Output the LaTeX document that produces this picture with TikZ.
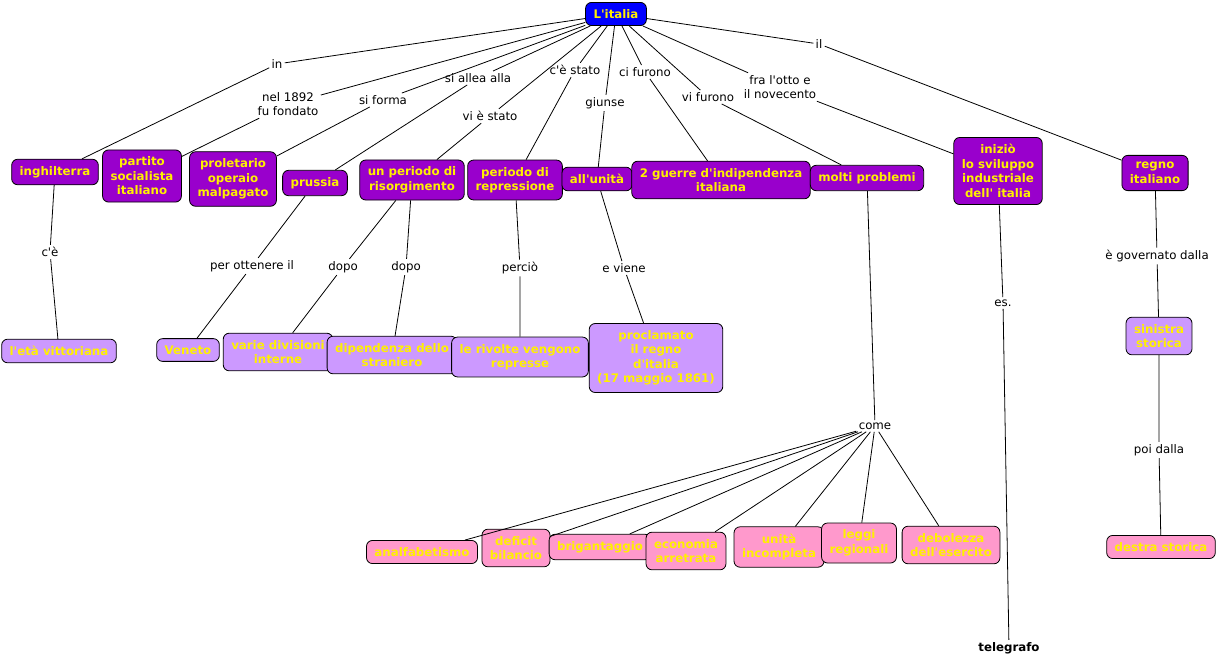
\documentclass[tikz,border=0pt]{standalone}
\usepackage{fontspec}
\setmainfont{DejaVu Sans}[Ligatures=TeXOff]
\usetikzlibrary{calc}
\definecolor{topblue}{HTML}{0000FF}
\definecolor{darkconc}{HTML}{9900CC}
\definecolor{lightconc}{HTML}{CC99FF}
\definecolor{pinkconc}{HTML}{FF99CC}
\definecolor{txtyellow}{HTML}{FFF000}
\newcommand{\mapfont}{\fontsize{11.8}{14.5}\selectfont}
\newcommand{\concept}[2]{
	\node[draw, rectangle, rounded corners = 6pt, fill = #1, text = txtyellow, font = \mapfont\bfseries, align = center, inner xsep = 8pt, inner ysep = 7pt] (#2)
}
\newcommand{\phrase}[1]{
	\node[align = center, inner sep = 2pt] (#1)
}
\begin{document}
\begin{tikzpicture}[x = 1pt, y = -1pt, line width = 0.8pt, font = \mapfont]

		\useasboundingbox[fill = white] (0,0) rectangle (1217,664);

		\concept{topblue}{italia} at (616,14) {L'italia};

		\concept{darkconc}{ingh} at (55,172) {inghilterra};
		\concept{darkconc}{partito} at (142,176) {partito\\socialista\\italiano};
		\concept{darkconc}{prolet} at (233,179) {proletario\\operaio\\malpagato};
		\concept{darkconc}{prussia} at (315,183) {prussia};
		\concept{darkconc}{risorg} at (412,180) {un periodo di\\risorgimento};
		\concept{darkconc}{repress} at (515,180) {periodo di\\repressione};
		\concept{darkconc}{unita} at (597,179) {all'unità};
		\concept{darkconc}{guerre} at (721,180) {2 guerre d'indipendenza\\italiana};
		\concept{darkconc}{problemi} at (867,178) {molti problemi};
		\concept{darkconc}{sviluppo} at (998,171) {iniziò\\lo sviluppo\\industriale\\dell' italia};
		\concept{darkconc}{regno} at (1155,173) {regno\\italiano};

		\concept{lightconc}{vittoria} at (59,351) {l'età vittoriana};
		\concept{lightconc}{veneto} at (188,350) {Veneto};
		\concept{lightconc}{divisioni} at (278,352) {varie divisioni\\interne};
		\concept{lightconc}{dipend} at (392,355) {dipendenza dello\\straniero};
		\concept{lightconc}{rivolte} at (520,357) {le rivolte vengono\\represse};
		\concept{lightconc}{proclam} at (656,358) {proclamato\\il regno\\d'italia\\(17 maggio 1861)};
		\concept{lightconc}{sinistra} at (1159,336) {sinistra\\storica};

		\concept{pinkconc}{prob_1} at (422,552) {analfabetismo};
		\concept{pinkconc}{prob_2} at (516,548) {deficit\\bilancio};
		\concept{pinkconc}{prob_3} at (600,547) {brigantaggio};
		\concept{pinkconc}{prob_4} at (686,551) {economia\\arretrata};
		\concept{pinkconc}{prob_5} at (779,547) {unità\\incompleta};
		\concept{pinkconc}{prob_6} at (859,543) {leggi\\regionali};
		\concept{pinkconc}{prob_7} at (951,545) {debolezza\\dell'esercito};
		\concept{pinkconc}{destra} at (1161,547) {destra storica};

		\node[font = \mapfont\bfseries, inner sep = 2pt] (tele) at (1009,648) {telegrafo};

		\phrase{l_in} at (277,64) {in};
		\phrase{l_fondato} at (288,104) {nel 1892\\fu fondato};
		\phrase{l_forma} at (383,100) {si forma};
		\phrase{l_allea} at (478,78) {si allea alla};
		\phrase{l_vistato} at (490,116) {vi è stato};
		\phrase{l_cestato} at (575,70) {c'è stato};
		\phrase{l_giunse} at (605,103) {giunse};
		\phrase{l_cifurono} at (645,72) {ci furono};
		\phrase{l_vifurono} at (708,97) {vi furono};
		\phrase{l_otto} at (780,87) {fra l'otto e\\il novecento};
		\phrase{l_il} at (819,44) {il};
		\phrase{l_ce} at (50,252) {c'è};
		\phrase{l_ottenere} at (252,266) {per ottenere il};
		\phrase{l_dopo_1} at (343,267) {dopo};
		\phrase{l_dopo_2} at (406,267) {dopo};
		\phrase{l_percio} at (520,268) {perciò};
		\phrase{l_viene} at (624,268) {e viene};
		\phrase{l_come} at (875,426) {come};
		\phrase{l_es} at (1003,303) {es.};
		\phrase{l_governato} at (1157,256) {è governato dalla};
		\phrase{l_poi} at (1159,450) {poi dalla};

		\draw (italia) -- (l_in) -- (ingh);
		\draw (ingh) -- (l_ce) -- (vittoria);
		\draw (italia) -- (l_fondato) -- (partito);
		\draw (italia) -- (l_forma) -- (prolet);
		\draw (italia) -- (l_allea) -- (prussia);
		\draw (prussia) -- (l_ottenere) -- (veneto);
		\draw (italia) -- (l_vistato) -- (risorg);
		\draw (risorg) -- (l_dopo_1) -- (divisioni);
		\draw (risorg) -- (l_dopo_2) -- (dipend);
		\draw (italia) -- (l_cestato) -- (repress);
		\draw (repress) -- (l_percio) -- (rivolte);
		\draw (italia) -- (l_giunse) -- (unita);
		\draw (unita) -- (l_viene) -- (proclam);
		\draw (italia) -- (l_cifurono) -- (guerre);
		\draw (italia) -- (l_vifurono) -- (problemi);
		\draw (problemi) -- (l_come);
		\foreach \i in {1,...,7}
			\draw (l_come) -- (prob_\i);
		\draw (italia) -- (l_otto) -- (sviluppo);
		\draw (sviluppo) -- (l_es) -- (tele);
		\draw (italia) -- (l_il) -- (regno);
		\draw (regno) -- (l_governato) -- (sinistra);
		\draw (sinistra) -- (l_poi) -- (destra);
	\end{tikzpicture}
\end{document}
